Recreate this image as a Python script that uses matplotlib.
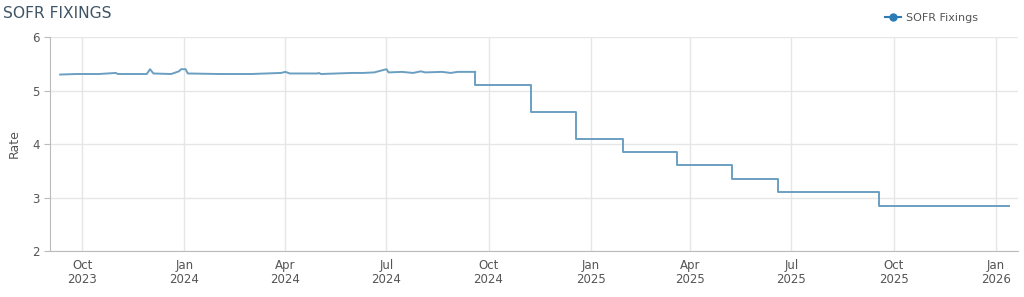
import numpy as np
import pandas as pd
import matplotlib
matplotlib.use("Agg")
import matplotlib.pyplot as plt
import matplotlib.dates as mdates

# historical fixings
hist_dates = ["2023-09-11", "2023-09-25", "2023-10-02", "2023-10-16", "2023-10-31", "2023-11-02",
              "2023-11-28", "2023-12-01", "2023-12-04", "2023-12-20", "2023-12-27", "2023-12-29",
              "2024-01-02", "2024-01-04", "2024-02-01", "2024-03-01", "2024-03-28", "2024-04-01",
              "2024-04-05", "2024-04-30", "2024-05-01", "2024-05-03", "2024-05-31", "2024-06-10",
              "2024-06-20", "2024-07-01", "2024-07-03", "2024-07-15", "2024-07-25", "2024-08-01",
              "2024-08-05", "2024-08-20", "2024-08-28", "2024-09-03", "2024-09-19"]
hist_rates = [5.30, 5.31, 5.31, 5.31, 5.33, 5.31,
              5.31, 5.40, 5.32, 5.31, 5.36, 5.40,
              5.40, 5.32, 5.31, 5.31, 5.33, 5.35,
              5.32, 5.32, 5.33, 5.31, 5.33, 5.33,
              5.34, 5.40, 5.34, 5.35, 5.33, 5.36,
              5.34, 5.35, 5.33, 5.35, 5.35]

# step levels after each cut
step_dates = ["2024-09-19", "2024-11-08", "2024-12-19", "2025-01-30", "2025-03-20",
              "2025-05-08", "2025-06-19", "2025-09-18", "2026-01-13"]
step_rates = [5.10, 4.60, 4.10, 3.85, 3.60, 3.35, 3.10, 2.85, 2.85]

line_col = "#6b9fc2"
grid_col = "#e6e6e6"
text_col = "#555555"

fig = plt.figure(figsize=(10.24, 2.97), dpi=100)
ax = fig.add_axes([0.049, 0.155, 0.945, 0.72])

hd = pd.to_datetime(hist_dates)
sd = pd.to_datetime(step_dates)
ax.plot(hd, hist_rates, color=line_col, lw=1.4)
ax.plot(pd.DatetimeIndex([hd[-1]]).append(sd), [hist_rates[-1]] + step_rates,
        color=line_col, lw=1.4, drawstyle="steps-post")

ax.set_xlim(pd.Timestamp("2023-09-02"), pd.Timestamp("2026-01-21"))
ax.set_ylim(2, 6)
ax.set_yticks([2, 3, 4, 5, 6])

ax.xaxis.set_major_locator(mdates.MonthLocator(bymonth=[1, 4, 7, 10]))
ax.xaxis.set_major_formatter(mdates.DateFormatter("%b\n%Y"))

ax.grid(True, color=grid_col, lw=1)
ax.set_axisbelow(True)
for s in ["top", "right"]:
    ax.spines[s].set_visible(False)
for s in ["left", "bottom"]:
    ax.spines[s].set_color("#bbbbbb")
ax.tick_params(axis="x", length=0, labelsize=8.5, labelcolor=text_col, pad=6)
ax.tick_params(axis="y", length=4, color="#bbbbbb", labelsize=8.5, labelcolor=text_col)
for lab in ax.get_xticklabels():
    lab.set_linespacing(1.1)

ax.set_ylabel("Rate", fontsize=9, color=text_col, labelpad=8)

fig.text(0.003, 0.955, "SOFR FIXINGS", fontsize=11.2, color="#3f5566", ha="left", va="center")

ax.plot([], [], color="#2b7bb5", marker="o", ms=5, lw=1.5, label="SOFR Fixings")
leg = fig.legend(loc="center right", bbox_to_anchor=(0.965, 0.94), frameon=False,
                 fontsize=8, handlelength=1.4, handletextpad=0.5)
for t in leg.get_texts():
    t.set_color(text_col)

fig.savefig("out.png", dpi=100)
